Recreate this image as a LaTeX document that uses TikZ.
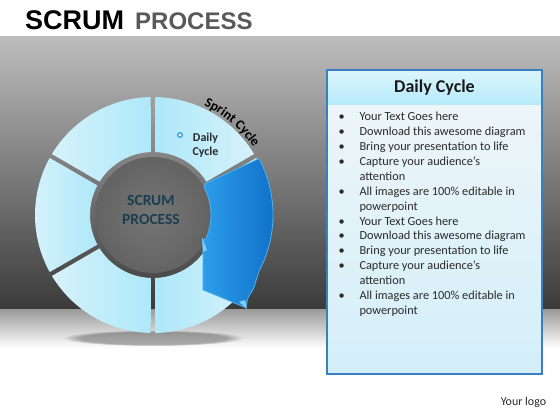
\documentclass[tikz,border=0pt]{standalone}
\usepackage{fontspec}
\setmainfont{Carlito}
\newfontfamily\titlefont{Liberation Sans}
\usetikzlibrary{decorations.text,fadings}
\definecolor{bandtop}{HTML}{BDBDBD}
\definecolor{bandmid}{HTML}{8C8C8C}
\definecolor{bandbot}{HTML}{3A3A3A}
\definecolor{refltop}{HTML}{9C9C9C}
\definecolor{titlegray}{HTML}{595959}
\definecolor{segpale}{HTML}{D6F2FB}
\definecolor{segcyan}{HTML}{AEE8F9}
\definecolor{discin}{HTML}{767676}
\definecolor{discout}{HTML}{636363}
\definecolor{arrowL}{HTML}{2C9DEA}
\definecolor{arrowR}{HTML}{0E6FC8}
\definecolor{arrowedge}{HTML}{4FB2EE}
\definecolor{arrowbarb}{HTML}{7FD0F8}
\definecolor{boxborder}{HTML}{3B7FC0}
\definecolor{headtop}{HTML}{DDF5FC}
\definecolor{headbot}{HTML}{B5EAFA}
\definecolor{bodytop}{HTML}{EDF5F8}
\definecolor{bodybot}{HTML}{D3EFFA}
\definecolor{txt}{HTML}{2A2A2A}
\definecolor{ctext}{HTML}{1C3E50}
\definecolor{bulletblue}{HTML}{2BA3D8}
\tikzset{
  listline/.style={anchor=base west, inner sep=0, text=txt, font=\fontsize{12.3}{12.3}\selectfont},
  listbullet/.style={anchor=base, inner sep=0, text=txt, font=\fontsize{12.3}{12.3}\selectfont},
}
\begin{document}
\begin{tikzpicture}[x=1pt,y=1pt]
\useasboundingbox (0,0) rectangle (560,420);
\fill[white] (0,0) rectangle (560,420);
% background band and reflection
\shade[top color=bandtop, middle color=bandmid, bottom color=bandbot] (0,110) rectangle (560,383);
\shade[top color=refltop, bottom color=white] (0,72) rectangle (560,110);
% title
\node[anchor=base west, inner sep=0, font=\titlefont\bfseries\fontsize{27}{27}\selectfont] (t1) at (25,390.3) {SCRUM};
\node[anchor=base west, inner sep=0, font=\titlefont\bfseries\fontsize{24}{24}\selectfont, text=titlegray] (t2) at (135,390.3) {PROCESS};
% shadow below ring
\fill[black, opacity=0.3, path fading=circle with fuzzy edge 20 percent] (153,82) ellipse [x radius=90, y radius=8];
\begin{scope}[shift={(153,205)}]
  % ring segments
  \foreach \a/\b/\lc/\rc in {90/150/segpale/segcyan, 150/210/segpale/segcyan, 210/270/segpale/segcyan, 270/330/segcyan/segpale, 330/390/segcyan/segpale, 30/90/segcyan/segpale}{
    \shade[left color=\lc, right color=\rc]
      ({\a+1.1}:118) arc[start angle={\a+1.1}, end angle={\b-1.1}, radius=118]
      -- ({\b-2}:63) arc[start angle={\b-2}, end angle={\a+2}, radius=63] -- cycle;
  }
  % inner disc
  \shade[inner color=discin, outer color=discout] (0,0) circle[radius=58];
  \node[align=center, inner sep=0, text=ctext, font=\bfseries\fontsize{15.5}{18.6}\selectfont] (center) at (-2,5) {SCRUM\\PROCESS};
  % blue arrow
  \shade[left color=arrowL, right color=arrowR, draw=arrowedge, line width=0.8, line join=round]
    (31:61) -- (28:120) arc[start angle=28, end angle=-28, radius=120]
    -- (-36:124.5) -- (-41:126) -- (-45:131) -- (-56.3:90) -- (-26.6:56) -- (-24:58)
    arc[start angle=-24, end angle=28, radius=58] -- cycle;
  \fill[arrowbarb] (49,-22) -- (50,-37) -- (54,-35) -- cycle;
  \fill[arrowbarb] (86,-87) -- (94,-94) -- (92,-85) -- cycle;
  % daily cycle label
  \draw[bulletblue, line width=1.3, fill=white] (27,80) circle[radius=2.3];
  \node[align=center, inner sep=0, text=txt, font=\bfseries\fontsize{12}{14}\selectfont] (daily) at (52.5,70) {Daily\\Cycle};
  % sprint cycle curved label
  \path[decorate, decoration={text along path, text align=center,
      text={|\bfseries\fontsize{13.5}{13.5}\selectfont\color{black}|Sprint Cycle}}]
    (78:121) arc[start angle=78, end angle=21, radius=121];
\end{scope}
% text box
\shade[top color=bodytop, bottom color=bodybot] (327,46) rectangle (542,315);
\shade[top color=headtop, bottom color=headbot] (327,315) rectangle (542,350);
\draw[boxborder, line width=1.2] (327,46) rectangle (542,350);
\node[inner sep=0, text=black!90, font=\bfseries\fontsize{18}{18}\selectfont] (head) at (434.5,332) {Daily Cycle};
\foreach \i/\b/\t in {0/1/Your Text Goes here, 1/1/Download this awesome diagram, 2/1/Bring your presentation to life, 3/1/Capture your audience’s, 4/0/attention, 5/1/All images are 100\% editable in, 6/0/powerpoint, 7/1/Your Text Goes here, 8/1/Download this awesome diagram, 9/1/Bring your presentation to life, 10/1/Capture your audience’s, 11/0/attention, 12/1/All images are 100\% editable in, 13/0/powerpoint}{
  \node[listline] (l\i) at (359.3,{299.2-14.9*\i}) {\t};
  \ifnum\b=1 \node[listbullet] (b\i) at (341.7,{299.2-14.9*\i}) {\textbullet}; \fi
}
\node[anchor=base, inner sep=0, text=txt, font=\fontsize{12}{12}\selectfont] (logo) at (523.5,14) {Your logo};
\end{tikzpicture}
\end{document}
